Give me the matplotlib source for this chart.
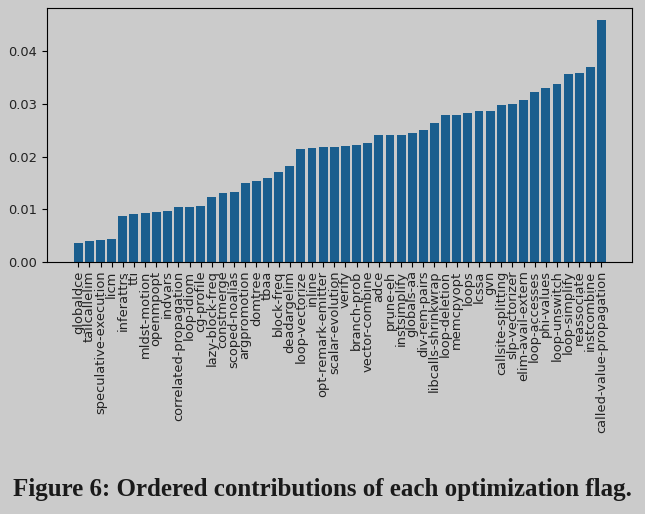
import matplotlib
matplotlib.use("Agg")
import matplotlib.pyplot as plt

flags = [
    "globaldce", "tailcallelim", "speculative-execution", "licm", "inferattrs", "tti",
    "mldst-motion", "openmpopt", "indvars", "correlated-propagation", "loop-idiom",
    "cg-profile", "lazy-block-freq", "constmerge", "scoped-noalias", "argpromotion",
    "domtree", "tbaa", "block-freq", "deadargelim", "loop-vectorize", "inline",
    "opt-remark-emitter", "scalar-evolution", "verify", "branch-prob", "vector-combine",
    "adce", "prune-eh", "instsimplify", "globals-aa", "div-rem-pairs",
    "libcalls-shrinkwrap", "loop-deletion", "memcpyopt", "loops", "lcssa", "gvn",
    "callsite-splitting", "slp-vectorizer", "elim-avail-extern", "loop-accesses",
    "phi-values", "loop-unswitch", "loop-simplify", "reassociate", "instcombine",
    "called-value-propagation",
]
contributions = [
    0.0036, 0.0040, 0.0042, 0.0044, 0.0087, 0.0091,
    0.0093, 0.0095, 0.0097, 0.0104, 0.0104,
    0.0106, 0.0123, 0.0131, 0.0133, 0.0150,
    0.0154, 0.0159, 0.0171, 0.0182, 0.0214, 0.0216,
    0.0218, 0.0218, 0.0220, 0.0222, 0.0226,
    0.0241, 0.0241, 0.0241, 0.0245, 0.0250,
    0.0264, 0.0278, 0.0278, 0.0282, 0.0286, 0.0286,
    0.0297, 0.0299, 0.0307, 0.0323,
    0.0329, 0.0337, 0.0356, 0.0358, 0.0369,
    0.0458,
]
caption = "Figure 6: Ordered contributions of each optimization flag."

bg = "#cbcbcb"
fig = plt.figure(figsize=(6.45, 5.14), dpi=100, facecolor=bg)
ax = fig.add_axes([0.073, 0.490, 0.907, 0.494], facecolor=bg)
x = list(range(len(flags)))
ax.bar(x, contributions, width=0.8, color="#1a5e8e")
ax.set_xticks(x)
ax.set_xticklabels(flags, rotation=90, fontsize=9.4, color="#222222")
ax.tick_params(axis="y", labelsize=9.4, labelcolor="#222222")
ax.tick_params(axis="x", pad=2.5)
ax.set_xlim(-2.8, 49.75)
ax.set_ylim(0, 0.0481)
ax.set_yticks([0, 0.01, 0.02, 0.03, 0.04])
ax.set_yticklabels(["0.00", "0.01", "0.02", "0.03", "0.04"])
for s in ax.spines.values():
    s.set_linewidth(0.8)

fig.text(0.5, 0.035, caption, ha="center", va="baseline", fontsize=18,
         fontweight="bold", family="Liberation Serif", color="#1a1a1a")

fig.savefig("out.png", dpi=100, facecolor=bg)
